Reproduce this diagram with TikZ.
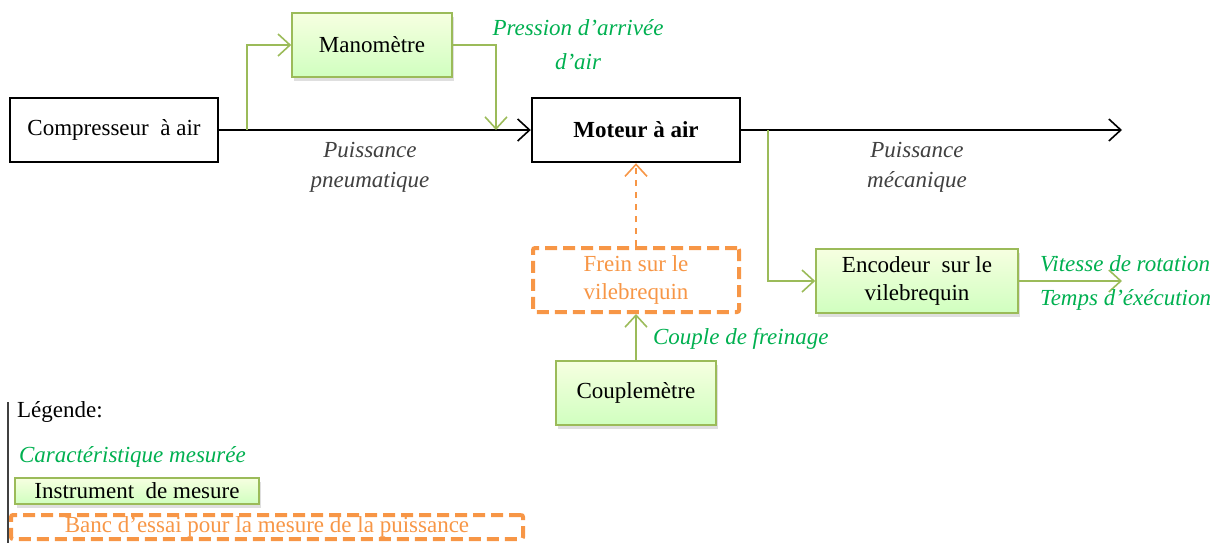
\documentclass[tikz,border=0pt]{standalone}
\usepackage{fontspec}
\setmainfont{Liberation Serif}
\usetikzlibrary{arrows.meta,positioning,shadows}
\definecolor{mesvert}{RGB}{155,187,89}
\definecolor{txtvert}{RGB}{0,176,80}
\definecolor{orangebanc}{RGB}{247,150,70}
\definecolor{gristxt}{RGB}{64,64,64}

\begin{document}
\begin{tikzpicture}[
    x=0.5pt, y=-0.5pt,
    font=\fontsize{11.5}{14}\selectfont,
    >={Straight Barb[length=6pt,width=11pt]},
    block/.style={draw, rectangle, align=center, minimum height=32pt, thick},
    instr/.style={draw=mesvert, thick, rectangle, align=center, minimum height=32pt,
        top color=green!5!lime!12, bottom color=lime!35!green!25,
        drop shadow={shadow xshift=1pt, shadow yshift=-2pt, opacity=0.25}},
    banc/.style={draw=orangebanc, line width=2pt, dash pattern=on 6pt off 3pt, rectangle,
        align=center, text=orangebanc, rounded corners=1pt},
    mesure/.style={text=txtvert, font=\fontsize{11.5}{17}\selectfont\itshape, align=center},
    puiss/.style={text=gristxt, font=\fontsize{11.5}{15}\selectfont\itshape, align=center},
    vert/.style={draw=mesvert, thick}
]
    \useasboundingbox (0,0) rectangle (1227,543);

    % chaine principale
    \node[block, minimum width=104pt] (comp) at (114,130) {Compresseur \ \`a air};
    \node[block, very thick, minimum width=104pt] (moteur) at (636,130) {\textbf{Moteur \`a air}};
    \coordinate (sortie) at (1122,130);
    \draw[->, thick] (comp) -- (moteur);
    \draw[->, thick] (moteur) -- (sortie);
    \node[puiss] (ppneu) at (370,167) {Puissance\\pneumatique};
    \node[puiss] (pmeca) at (917,167) {Puissance\\m\'ecanique};

    % manometre
    \node[instr, minimum width=80pt] (mano) at (372,45) {Manom\`etre};
    \coordinate (piq1) at (247,130);
    \coordinate (piq2) at (496,130);
    \draw[vert, ->] (piq1) |- (mano);
    \draw[vert, ->] (mano.east) -| (piq2);
    \node[mesure] (pression) at (578,45) {Pression d'arriv\'ee\\d'air};

    % frein et couplemetre
    \node[banc, minimum width=103pt, minimum height=32pt] (frein) at (636,280) {Frein sur le\\vilebrequin};
    \draw[->, orangebanc, thick, dashed] (frein) -- (moteur);
    \node[instr, minimum width=80pt] (couple) at (636,393) {Couplem\`etre};
    \draw[vert, ->] (couple) -- (frein);
    \node[mesure, anchor=west] (freinage) at (646,339) {Couple de freinage};

    % encodeur
    \node[instr, minimum width=101pt] (enc) at (917,281) {Encodeur \ sur le\\vilebrequin};
    \coordinate (piq3) at (768,130);
    \coordinate (sortenc) at (1122,281);
    \draw[vert, ->] (piq3) |- (enc);
    \draw[vert, ->] (enc) -- (sortenc);
    \node[mesure, anchor=west] (vitesse) at (1033,264) {Vitesse de rotation};
    \node[mesure, anchor=west] (temps) at (1033,300) {Temps d'\'ex\'ecution};

    % legende
    \coordinate (leg1) at (8,402);
    \coordinate (leg2) at (8,543);
    \draw[gristxt, thick] (leg1) -- (leg2);
    \node[anchor=west] (legende) at (10,412) {L\'egende:};
    \node[mesure, anchor=west] (legmes) at (12,457) {Caract\'eristique mesur\'ee};
    \node[instr, minimum width=122pt, minimum height=13pt, inner sep=1pt] (leginstr) at (137,491) {Instrument \ de mesure};
    \node[banc, minimum width=256pt, minimum height=12pt, inner sep=0pt] (legbanc) at (267,527) {Banc d'essai pour la mesure de la puissance};
\end{tikzpicture}
\end{document}
